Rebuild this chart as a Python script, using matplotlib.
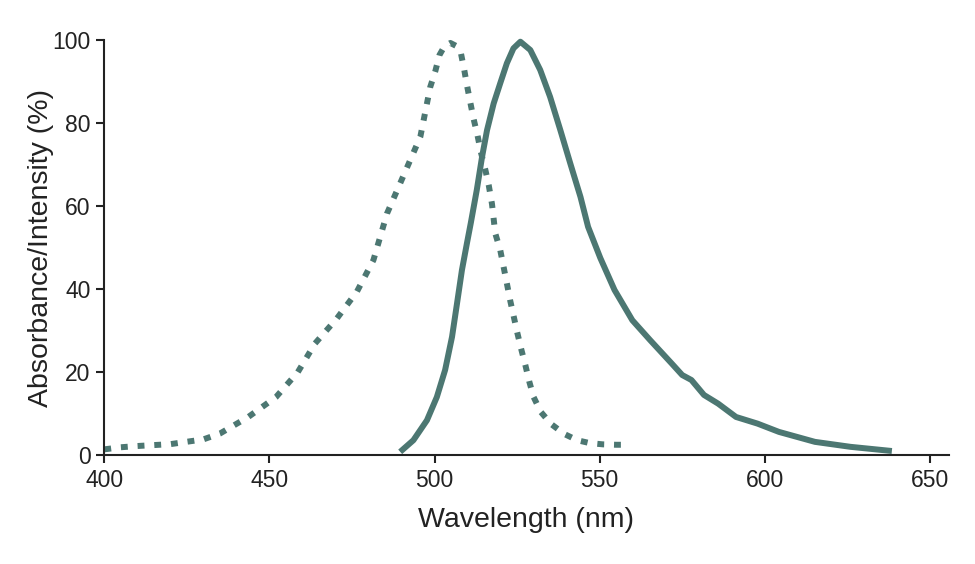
import matplotlib
matplotlib.use('Agg')
import matplotlib.pyplot as plt

plt.rcParams['font.family'] = ['Liberation Sans', 'DejaVu Sans']

# absorbance (dotted)
abs_nm = [400, 405, 410, 420, 430, 435, 443.6, 452, 458.6, 463.8, 470.4, 476.5, 481.5,
          485.6, 489.6, 495.7, 496.7, 497.7, 498.7, 500.2, 501.5, 503, 504.8, 506.5,
          508, 509, 509.8, 510.8, 511.8, 513, 514, 515.4, 516.4, 517.4, 518.4, 519.9,
          520.9, 521.9, 522.9, 523.9, 525, 526.2, 527.5, 528.7, 530, 532.2, 535.3,
          539.3, 543.2, 547, 551, 555, 559]
abs_val = [1.4, 1.9, 2.2, 2.65, 3.8, 5.2, 9.2, 14, 20, 26.9, 32.9, 39.4, 47,
           58.2, 65.5, 76.7, 80.7, 84.7, 88.7, 92.4, 96.4, 98.5, 99.3, 98.6,
           96.8, 92.8, 89.2, 85.1, 81.1, 77.1, 73.1, 68.7, 65.1, 60.5, 53.4, 49.4,
           45.4, 41.4, 37.3, 33.7, 29.7, 25.7, 21.7, 17.7, 14, 10.4, 7.5,
           5.1, 3.6, 2.9, 2.6, 2.5, 2.5]

# emission (solid)
em_nm = [489.6, 493.6, 497.7, 500.7, 503.2, 505.3, 506.8, 508.3, 509.8, 511, 512.8,
         514.4, 515.9, 517.9, 519.9, 521.9, 523.9, 526, 529, 532, 535, 538.1, 541.1,
         544.2, 546.5, 550.2, 554.5, 559.9, 565.3, 571.8, 575, 577.8, 581.6, 585.9,
         591.3, 597.8, 604.3, 615.2, 626, 638.5]
em_val = [0.8, 3.6, 8.4, 14, 20.5, 28.5, 36.5, 44.6, 51, 56, 63.9,
          71.9, 78.3, 84.7, 89.6, 94.4, 98, 99.6, 97.6, 92.8, 86.3, 78.3, 70.3,
          62.2, 55, 47.5, 39.8, 32.5, 27.7, 22.1, 19.3, 18.1, 14.5, 12.4,
          9.2, 7.6, 5.6, 3.2, 2.0, 1.0]

x_ticks = [400, 450, 500, 550, 600, 650]
y_ticks = [0, 20, 40, 60, 80, 100]

color = '#4c7772'

fig = plt.figure(figsize=(9.75, 5.64), dpi=100)
ax = fig.add_axes([0.107, 0.193, 0.866, 0.736])

ax.plot(abs_nm, abs_val, color=color, lw=4.3, dashes=(1.15, 1.65),
        dash_capstyle='butt', dash_joinstyle='round', clip_on=False)
ax.plot(em_nm, em_val, color=color, lw=4.3, solid_capstyle='butt',
        solid_joinstyle='round', clip_on=False)

ax.set_xlim(400, 655.7)
ax.set_ylim(0, 100)
ax.set_xticks(x_ticks)
ax.set_yticks(y_ticks)

for side in ['top', 'right']:
    ax.spines[side].set_visible(False)
for side in ['left', 'bottom']:
    ax.spines[side].set_linewidth(1.5)
    ax.spines[side].set_color('#222222')

ax.tick_params(direction='out', length=5.5, width=1.5, labelsize=16.5,
               colors='#222222', pad=4.5)
ax.set_xlabel('Wavelength (nm)', fontsize=20.5, color='#222222', labelpad=11)
ax.set_ylabel('Absorbance/Intensity (%)', fontsize=20.5, color='#222222', labelpad=-1)

fig.savefig('out.png', dpi=100)
